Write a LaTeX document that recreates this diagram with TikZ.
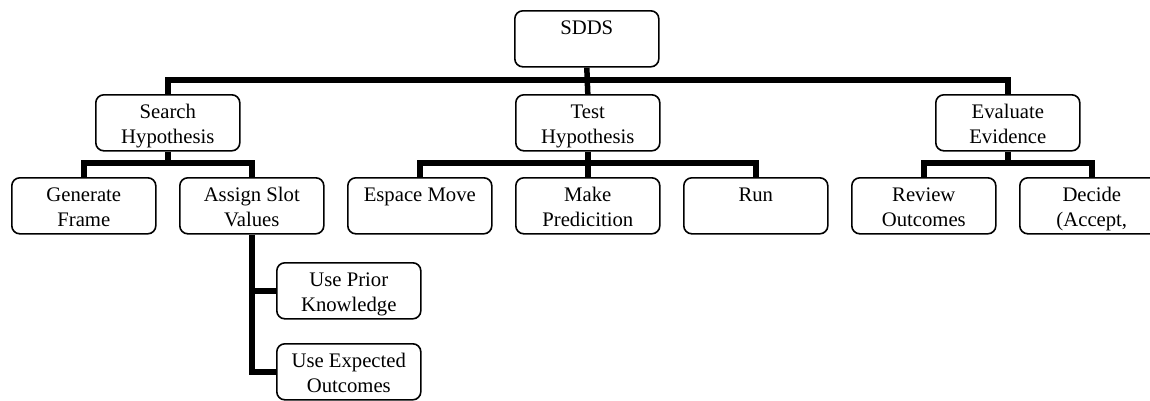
\documentclass[tikz,border=0pt]{standalone}
\usepackage{fontspec}
\setmainfont{Liberation Serif}
\begin{document}
\begin{tikzpicture}[x=1pt,y=-1pt,
  box/.style={draw,line width=1.6pt,rounded corners=8pt,inner sep=0pt,anchor=north west,
    font=\fontsize{20.7}{24.8}\selectfont},
  conn/.style={line width=5.5pt}]
\newcommand{\bx}[1]{\parbox[c][56pt][t]{144pt}{\centering\rule{0pt}{24pt}#1}}
\useasboundingbox (0,0) rectangle (1150,400);
\clip (0,0) rectangle (1150,400);
% level 1
\node[box] (sdds) at (514,10) {\bx{SDDS}};
% level 2
\node[box] (search) at (95,94) {\bx{Search\\Hypothesis}};
\node[box] (test) at (515,94) {\bx{Test\\Hypothesis}};
\node[box] (eval) at (935,94) {\bx{Evaluate\\Evidence}};
% level 3
\node[box] (gen) at (11,177) {\bx{Generate\\Frame}};
\node[box] (assign) at (179,177) {\bx{Assign Slot\\Values}};
\node[box] (espace) at (347,177) {\bx{Espace Move}};
\node[box] (make) at (515,177) {\bx{Make\\Predicition}};
\node[box] (run) at (683,177) {\bx{Run}};
\node[box] (review) at (851,177) {\bx{Review\\Outcomes}};
\node[box] (decide) at (1019,177) {\bx{Decide\\(Accept,}};
% level 4
\node[box] (prior) at (276,262) {\bx{Use Prior\\Knowledge}};
\node[box] (expected) at (276,343) {\bx{Use Expected\\Outcomes}};
% bar levels
\coordinate (barA) at (0,80);
\coordinate (barB) at (0,163);
% connectors
\draw[conn] (sdds.south) -- (test.north);
\draw[conn] (search.north) -- (search.north |- barA) -- (eval.north |- barA) -- (eval.north);
\draw[conn] (search.south) -- (search.south |- barB);
\draw[conn] (gen.north) -- (gen.north |- barB) -- (assign.north |- barB) -- (assign.north);
\draw[conn] (test.south) -- (make.north);
\draw[conn] (espace.north) -- (espace.north |- barB) -- (run.north |- barB) -- (run.north);
\draw[conn] (eval.south) -- (eval.south |- barB);
\draw[conn] (review.north) -- (review.north |- barB) -- (decide.north |- barB) -- (decide.north);
\draw[conn] (assign.south) -- (assign.south |- expected.west) -- (expected.west);
\draw[conn] (assign.south |- prior.west) -- (prior.west);
\end{tikzpicture}
\end{document}
